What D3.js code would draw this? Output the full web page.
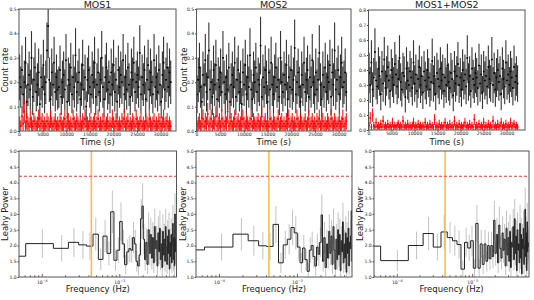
<!DOCTYPE html>
<html>
<head>
<meta charset="utf-8">
<script src="https://cdn.jsdelivr.net/npm/d3@7"></script>
<style>
  body { margin: 0; background: #fff; }
  text { font-family: 'DejaVu Sans', sans-serif; fill: #222; }
</style>
</head>
<body>
<div class="main"></div>
<script>
const w = 534;
const h = 300;

// light curves (count rate per time bin)
const mos1Rate = [
  0.22,0.18,0.25,0.15,0.20,0.28,0.12,0.19,0.23,0.17,0.30,0.14,0.21,0.26,0.16,0.19,0.24,0.11,0.22,0.18,
  0.27,0.15,0.20,0.33,0.43,0.21,0.13,0.24,0.19,0.28,0.16,0.22,0.17,0.18,0.25,0.14,0.20,0.23,0.17,0.29,
  0.12,0.21,0.19,0.26,0.15,0.22,0.18,0.31,0.16,0.20,0.24,0.13,0.19,0.27,0.17,0.22,0.10,0.21,0.25,0.18,
  0.15,0.23,0.20,0.28,0.14,0.19,0.24,0.16,0.21,0.30,0.18,0.13,0.22,0.26,0.17,0.20,0.15,0.24,0.19,0.27,
  0.16,0.21,0.12,0.25,0.18,0.23,0.20,0.29,0.15,0.22,0.17,0.26,0.19,0.14,0.24,0.21,0.28,0.16,0.20,0.23,
  0.18,0.32,0.15,0.22,0.19,0.25,0.13,0.21,0.27,0.17,0.24,0.20,0.15,0.29,0.18,0.22,0.16,0.25,0.19,0.12,
  0.23,0.28,0.17,0.21,0.26,0.18,0.24,0.20
];
const mos2Rate = [
  0.15,0.21,0.26,0.18,0.12,0.23,0.19,0.29,0.16,0.22,0.33,0.17,0.20,0.14,0.25,0.19,0.27,0.13,0.21,0.18,
  0.24,0.16,0.30,0.20,0.15,0.22,0.17,0.26,0.12,0.19,0.23,0.18,0.28,0.14,0.21,0.25,0.16,0.20,0.11,0.24,
  0.19,0.27,0.15,0.22,0.18,0.31,0.17,0.13,0.23,0.20,0.26,0.16,0.21,0.19,0.35,0.14,0.22,0.18,0.25,0.20,
  0.12,0.24,0.17,0.28,0.19,0.15,0.22,0.26,0.18,0.21,0.14,0.30,0.20,0.16,0.23,0.19,0.27,0.13,0.22,0.18,
  0.25,0.17,0.21,0.34,0.15,0.20,0.24,0.18,0.12,0.23,0.19,0.28,0.16,0.21,0.25,0.14,0.22,0.18,0.29,0.20,
  0.15,0.24,0.17,0.21,0.32,0.19,0.13,0.23,0.18,0.26,0.16,0.22,0.20,0.27,0.14,0.24,0.19,0.33,0.17,0.21,
  0.25,0.15,0.22,0.28,0.18,0.20,0.24,0.16
];
const combRate = [
  0.38,0.30,0.45,0.27,0.35,0.52,0.33,0.29,0.41,0.36,0.24,0.39,0.31,0.47,0.28,0.36,0.42,0.33,0.26,0.40,
  0.35,0.30,0.44,0.37,0.29,0.34,0.48,0.32,0.27,0.38,0.36,0.22,0.41,0.33,0.30,0.39,0.35,0.28,0.45,0.31,
  0.37,0.26,0.34,0.42,0.30,0.36,0.25,0.39,0.33,0.29,0.40,0.35,0.27,0.32,0.46,0.31,0.36,0.24,0.38,0.34,
  0.29,0.41,0.33,0.37,0.26,0.35,0.30,0.43,0.32,0.28,0.38,0.34,0.23,0.39,0.31,0.36,0.44,0.30,0.35,0.27,
  0.40,0.33,0.37,0.29,0.48,0.32,0.36,0.26,0.41,0.34,0.30,0.38,0.35,0.28,0.43,0.31,0.37,0.25,0.39,0.33,
  0.36,0.29,0.42,0.34,0.31,0.47,0.30,0.38,0.27,0.35,0.40,0.32,0.36,0.24,0.41,0.34,0.29,0.45,0.33,0.37,
  0.30,0.39,0.35,0.28,0.42,0.32,0.36,0.31
];

// background light curves
const mos1Bkg = [
  0.03,0.02,0.06,0.03,0.08,0.02,0.04,0.03,0.02,0.05,0.03,0.02,0.04,0.03,0.02,0.03,0.05,0.02,0.03,0.04,
  0.02,0.03,0.02,0.04,0.03,0.02,0.05,0.03,0.02,0.03,0.04,0.02,0.03,0.02,0.04,0.03,0.02,0.03,0.05,0.02,
  0.03,0.04,0.02,0.03,0.02,0.05,0.03,0.02,0.04,0.03,0.02,0.03,0.02,0.04,0.03,0.05,0.02,0.03,0.02,0.04,
  0.03,0.02,0.03,0.04,0.02,0.03,0.05,0.02,0.03,0.02,0.04,0.03,0.02,0.03,0.04,0.02,0.03,0.02,0.05,0.03,
  0.02,0.04,0.03,0.02,0.03,0.02,0.04,0.03,0.05,0.02,0.03,0.04,0.02,0.03,0.02,0.04,0.03,0.02,0.05,0.03,
  0.02,0.03,0.04,0.02,0.03,0.02,0.04,0.03,0.02,0.05,0.03,0.02,0.03,0.04,0.02,0.03,0.02,0.04,0.03,0.02,
  0.03,0.05,0.02,0.03,0.04,0.02,0.03,0.02
];
const mos2Bkg = [
  0.02,0.03,0.04,0.02,0.03,0.05,0.02,0.04,0.03,0.07,0.02,0.03,0.05,0.02,0.04,0.03,0.06,0.02,0.03,0.04,
  0.02,0.05,0.03,0.02,0.04,0.03,0.08,0.02,0.03,0.04,0.02,0.03,0.05,0.02,0.03,0.04,0.02,0.03,0.02,0.05,
  0.03,0.02,0.04,0.03,0.02,0.03,0.05,0.02,0.04,0.03,0.02,0.03,0.04,0.02,0.03,0.06,0.02,0.03,0.04,0.02,
  0.03,0.02,0.05,0.03,0.02,0.04,0.03,0.02,0.03,0.05,0.02,0.03,0.04,0.02,0.03,0.02,0.04,0.03,0.05,0.02,
  0.03,0.04,0.02,0.03,0.02,0.05,0.03,0.02,0.04,0.03,0.02,0.03,0.04,0.02,0.03,0.05,0.02,0.03,0.04,0.02,
  0.03,0.02,0.04,0.03,0.05,0.02,0.03,0.04,0.02,0.03,0.02,0.04,0.03,0.02,0.05,0.03,0.02,0.04,0.03,0.02,
  0.03,0.04,0.02,0.03,0.05,0.02,0.03,0.04
];
const combBkg = [
  0.03,0.08,0.02,0.10,0.03,0.02,0.05,0.02,0.03,0.02,0.04,0.02,0.06,0.02,0.03,0.02,0.04,0.02,0.03,0.02,
  0.05,0.02,0.03,0.02,0.03,0.04,0.02,0.03,0.02,0.06,0.02,0.03,0.02,0.04,0.02,0.03,0.02,0.03,0.05,0.02,
  0.03,0.02,0.04,0.02,0.03,0.02,0.03,0.02,0.05,0.02,0.03,0.02,0.04,0.02,0.03,0.02,0.07,0.02,0.03,0.02,
  0.04,0.02,0.03,0.02,0.03,0.05,0.02,0.03,0.02,0.04,0.02,0.03,0.02,0.06,0.02,0.03,0.02,0.04,0.02,0.03,
  0.02,0.03,0.05,0.02,0.03,0.02,0.04,0.02,0.03,0.02,0.07,0.02,0.03,0.02,0.04,0.02,0.03,0.02,0.05,0.02,
  0.03,0.02,0.04,0.02,0.03,0.02,0.06,0.02,0.03,0.02,0.04,0.02,0.03,0.05,0.02,0.03,0.02,0.04,0.02,0.03,
  0.02,0.05,0.02,0.03,0.04,0.02,0.03,0.02
];

// Leahy power spectra, one value per frequency bin
const mos1Power = [
  1.66,2.06,1.91,2.10,2.02,1.98,2.36,1.56,2.30,1.75,
  3.07,1.53,1.85,2.76,2.05,1.39,1.80,1.90,1.85,2.25,
  2.05,1.50,1.35,1.70,2.85,3.25,2.20,1.55,2.10,1.40,
  2.50,1.75,2.35,1.60,2.25,1.45,2.60,1.90,2.15,1.35,
  2.40,1.80,2.55,1.55,2.05,1.30,2.45,1.70,2.20,1.50,
  2.60,1.95,1.40,2.30,1.75,2.50,1.25,2.10,1.65,2.35,
  1.45,2.00,2.70,1.55,2.25,1.35,3.00,1.80,2.20
];
const mos2Power = [
  1.86,1.95,2.36,2.15,1.99,1.97,2.67,1.45,2.02,2.20,
  2.57,2.40,1.95,1.45,1.92,1.55,1.18,1.85,2.00,1.65,
  1.35,1.95,1.72,2.10,2.97,1.50,2.25,1.30,2.05,1.60,
  2.45,1.75,2.30,1.40,2.60,1.85,1.25,2.20,1.55,2.50,
  1.70,2.35,1.20,2.15,1.80,2.75,1.45,2.05,1.60,2.40,
  1.15,2.25,1.75,2.55,1.35,2.10,1.90,2.30,3.10,1.50
];
const combPower = [
  1.98,1.52,2.00,2.38,1.95,2.43,2.25,2.15,2.03,1.25,
  2.10,1.92,2.15,1.28,2.70,1.28,2.05,1.40,2.05,1.50,
  2.00,1.58,2.00,1.65,2.80,1.75,2.35,1.45,2.65,1.90,
  1.60,2.40,1.85,2.20,1.35,2.55,1.70,2.25,1.50,2.45,
  1.30,2.10,1.95,2.60,1.55,2.85,1.75,2.30,1.20,2.50,
  1.85,2.05,1.45,2.70,1.60,2.35,1.10,2.20,1.90,2.55,
  1.40,2.00,3.15,1.65,2.40,1.20,2.75,1.80,2.10,1.95
];

const timeTicks = [0, 5000, 10000, 15000, 20000, 25000, 30000];
const rateTicks = [0, 0.1, 0.2, 0.3, 0.4, 0.5];
const combRateTicks = [0, 0.1, 0.2, 0.3, 0.4, 0.5, 0.6, 0.7, 0.8];
const powerTicks = [1.0, 1.5, 2.0, 2.5, 3.0, 3.5, 4.0, 4.5, 5.0];
const freqTicks = [1e-4, 1e-3];
const detectLevel = 4.2;
const qpoFreq = 4.3e-4;

const tickFont = 4.6;
const labelFont = 8.5;

const svg = d3.select('.main').append('svg').attr('width', w).attr('height', h);
svg.append('rect').attr('width', w).attr('height', h).attr('fill', '#fff');

let clipId = 0;
function clip(x0, y0, x1, y1) {
  const id = 'c' + clipId++;
  svg.append('clipPath').attr('id', id)
    .append('rect').attr('x', x0).attr('y', y0).attr('width', x1 - x0).attr('height', y1 - y0);
  return 'url(#' + id + ')';
}

function box(o) {
  svg.append('rect').attr('x', o.x0).attr('y', o.y0)
    .attr('width', o.x1 - o.x0).attr('height', o.y1 - o.y0)
    .attr('fill', 'none').attr('stroke', '#555').attr('stroke-width', 1);
}

function styleAxis(a) {
  a.select('.domain').remove();
  a.selectAll('text').attr('font-size', tickFont).attr('fill', '#333');
  a.selectAll('line').attr('stroke', '#444');
}

function lightCurve(o) {
  const x = d3.scaleLinear().domain([0, o.tMax]).range([o.x0, o.x1]);
  const y = d3.scaleLinear().domain([0, o.yMax]).range([o.y1, o.y0]);
  const g = svg.append('g').attr('clip-path', clip(o.x0, o.y0, o.x1, o.y1));

  // poisson-like error: grows with the square root of the rate
  function series(vals, errK, col, errOp) {
    const s = g.append('g');
    vals.forEach(function (v, i) {
      const t = (i + 0.5) * o.bin;
      const err = errK * Math.sqrt(v);
      s.append('line').attr('x1', x(t)).attr('x2', x(t))
        .attr('y1', y(Math.max(0, v - err))).attr('y2', y(v + err))
        .attr('stroke', col).attr('stroke-opacity', errOp).attr('stroke-width', 1.1);
      s.append('line').attr('x1', x(t - o.bin / 2)).attr('x2', x(t + o.bin / 2))
        .attr('y1', y(v)).attr('y2', y(v))
        .attr('stroke', col).attr('stroke-width', 1);
      s.append('rect').attr('x', x(t) - 0.8).attr('y', y(v) - 0.8)
        .attr('width', 1.6).attr('height', 1.6).attr('fill', col);
    });
  }
  series(o.rate, o.errK, '#000', 0.8);
  series(o.bkg, o.bkgErrK, '#f00', 0.9);

  const ax = svg.append('g').attr('transform', 'translate(0,' + o.y1 + ')')
    .call(d3.axisBottom(x).tickValues(timeTicks).tickSize(1.5).tickPadding(0.5).tickFormat(d3.format('d')));
  const ay = svg.append('g').attr('transform', 'translate(' + o.x0 + ',0)')
    .call(d3.axisLeft(y).tickValues(o.yTicks).tickSize(1.5).tickPadding(0.8).tickFormat(d3.format('.1f')));
  styleAxis(ax);
  styleAxis(ay);
  box(o);

  svg.append('text').attr('x', (o.x0 + o.x1) / 2).attr('y', 8)
    .attr('text-anchor', 'middle').attr('font-size', 9.5).text(o.title);
  svg.append('text').attr('x', (o.x0 + o.x1) / 2).attr('y', 144.5)
    .attr('text-anchor', 'middle').attr('font-size', labelFont).text('Time (s)');
  const lab = svg.append('text')
    .attr('transform', 'translate(' + o.labX + ',' + ((o.y0 + o.y1) / 2) + ') rotate(-90)')
    .attr('text-anchor', 'middle').attr('font-size', labelFont).text('Count rate');
  if (o.labClip) lab.attr('clip-path', clip(o.labClip, 0, w, h));
}

function powerSpectrum(o) {
  const x = d3.scaleLog().domain(o.fDomain).range([o.x0, o.x1]);
  const y = d3.scaleLinear().domain([1, 5]).range([o.y1, o.y0]);
  const g = svg.append('g').attr('clip-path', clip(o.x0, o.y0, o.x1, o.y1));

  const freqs = o.power.map(function (p, k) { return o.f0 + k * o.df; });

  // error bars
  o.power.forEach(function (p, k) {
    g.append('line').attr('x1', x(freqs[k])).attr('x2', x(freqs[k]))
      .attr('y1', y(p * (1 - o.errFrac))).attr('y2', y(p * (1 + o.errFrac)))
      .attr('stroke', '#c2c2c2').attr('stroke-width', 1);
  });

  // steps-mid line
  const pts = [];
  o.power.forEach(function (p, k) {
    const lo = k === 0 ? freqs[0] : freqs[k] - o.df / 2;
    const hi = k === o.power.length - 1 ? freqs[k] : freqs[k] + o.df / 2;
    pts.push([lo, p], [hi, p]);
  });
  g.append('path').attr('d', d3.line().x(function (d) { return x(d[0]); }).y(function (d) { return y(d[1]); })(pts))
    .attr('fill', 'none').attr('stroke', '#222').attr('stroke-width', 1);

  g.append('line').attr('x1', x(qpoFreq)).attr('x2', x(qpoFreq))
    .attr('y1', o.y0).attr('y2', o.y1)
    .attr('stroke', '#f4b740').attr('stroke-width', 1.6).attr('stroke-opacity', 0.9);
  g.append('line').attr('x1', o.x0).attr('x2', o.x1)
    .attr('y1', y(detectLevel)).attr('y2', y(detectLevel))
    .attr('stroke', '#e0403a').attr('stroke-width', 1.1).attr('stroke-dasharray', '3,2');

  // log ticks inside the bottom axis
  const minor = [];
  [1e-5, 1e-4, 1e-3].forEach(function (d) {
    for (let m = 1; m < 10; m++) {
      const f = d * m;
      if (f > o.fDomain[0] && f < o.fDomain[1]) minor.push(f);
    }
  });
  svg.selectAll(null).data(minor).enter().append('line')
    .attr('x1', function (d) { return x(d); }).attr('x2', function (d) { return x(d); })
    .attr('y1', o.y1).attr('y2', function (d) { return freqTicks.indexOf(d) >= 0 ? o.y1 - 3 : o.y1 - 1.8; })
    .attr('stroke', '#444').attr('stroke-width', 0.8);
  freqTicks.forEach(function (f) {
    const t = svg.append('text').attr('x', x(f)).attr('y', o.y1 + 6.5)
      .attr('text-anchor', 'middle').attr('font-size', tickFont).attr('fill', '#333');
    t.append('tspan').text('10');
    t.append('tspan').attr('dy', -1.8).attr('font-size', 3.4).text(f === 1e-4 ? '\u22124' : '\u22123');
  });

  const ay = svg.append('g').attr('transform', 'translate(' + o.x0 + ',0)')
    .call(d3.axisLeft(y).tickValues(powerTicks).tickSize(1.5).tickPadding(0.8).tickFormat(d3.format('.1f')));
  styleAxis(ay);
  box(o);

  svg.append('text').attr('x', (o.x0 + o.x1) / 2).attr('y', 292)
    .attr('text-anchor', 'middle').attr('font-size', labelFont).text('Frequency (Hz)');
  svg.append('text')
    .attr('transform', 'translate(' + o.labX + ',' + ((o.y0 + o.y1) / 2) + ') rotate(-90)')
    .attr('text-anchor', 'middle').attr('font-size', labelFont).text('Leahy Power');
}

lightCurve({ title: 'MOS1', x0: 19, x1: 176, y0: 9, y1: 131, tMax: 33250, bin: 252,
  yMax: 0.5, yTicks: rateTicks, rate: mos1Rate, errK: 0.2, bkg: mos1Bkg, bkgErrK: 0.17, labX: 8 });
lightCurve({ title: 'MOS2', x0: 196.5, x1: 351, y0: 9, y1: 131, tMax: 32600, bin: 248,
  yMax: 0.5, yTicks: rateTicks, rate: mos2Rate, errK: 0.2, bkg: mos2Bkg, bkgErrK: 0.17, labX: 187 });
lightCurve({ title: 'MOS1+MOS2', x0: 368.5, x1: 525, y0: 10, y1: 130, tMax: 34000, bin: 254,
  yMax: 0.8, yTicks: combRateTicks, rate: combRate, errK: 0.22, bkg: combBkg, bkgErrK: 0.14, labX: 360, labClip: 358 });

powerSpectrum({ x0: 19, x1: 176.5, y0: 151, y1: 277, fDomain: [5.0e-5, 5.4e-3],
  f0: 2.2e-5, df: 7.8e-5, power: mos1Power, errFrac: 0.22, labX: 7.5 });
powerSpectrum({ x0: 196, x1: 352, y0: 151, y1: 277, fDomain: [5.0e-5, 5.0e-3],
  f0: 2.2e-5, df: 8.45e-5, power: mos2Power, errFrac: 0.22, labX: 185.5 });
powerSpectrum({ x0: 374, x1: 529, y0: 151, y1: 277, fDomain: [4.9e-5, 5.6e-3],
  f0: 2.0e-5, df: 8.0e-5, power: combPower, errFrac: 0.22, labX: 363 });
</script>
</body>
</html>
